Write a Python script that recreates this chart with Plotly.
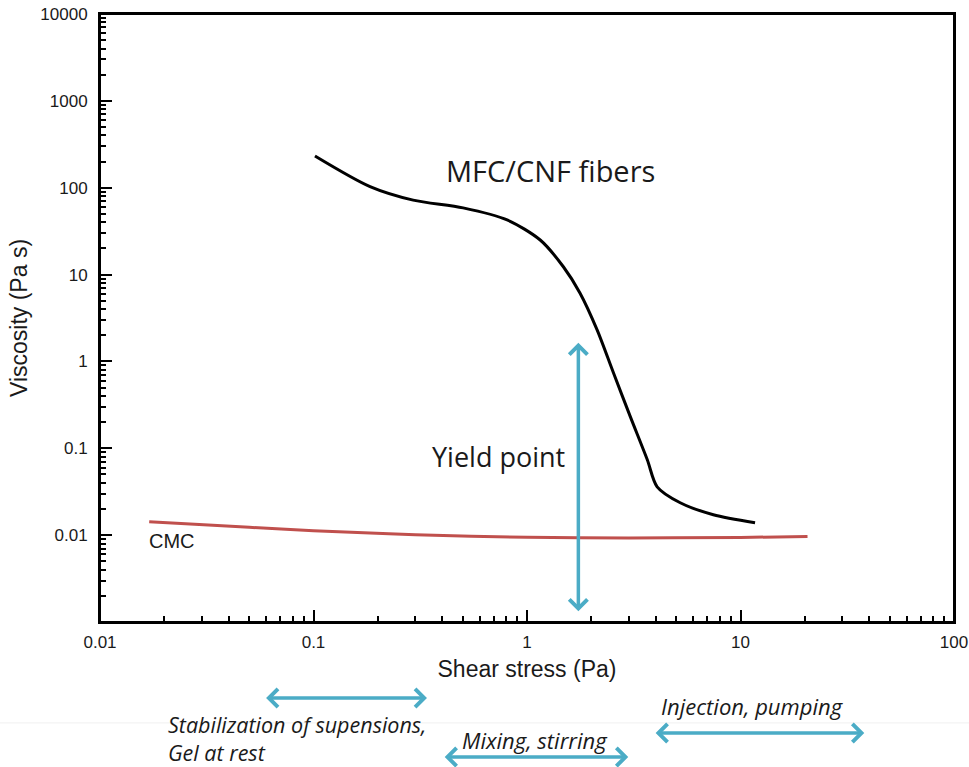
import numpy as np
import plotly.graph_objects as go

# ---- data ----
mfc_stress = [0.1016, 0.184, 0.293, 0.502, 0.807, 1.153, 1.48, 1.77, 2.13, 2.54, 3.05, 3.66, 4.07, 5.22, 7.46, 11.7]
mfc_visc = [232, 103, 72, 58.6, 42.6, 25, 12.3, 6.15, 2.31, 0.74, 0.23, 0.0738, 0.036, 0.0236, 0.0172, 0.0139]

cmc_stress = [0.017, 0.05, 0.1, 0.3, 1.0, 3.0, 10.0, 20.6]
cmc_visc = [0.0143, 0.0123, 0.01125, 0.0101, 0.00946, 0.0093, 0.0094, 0.00966]

yield_stress = 1.74
yield_arrow_visc = [0.00128, 1.64]

process_lo = [0.059, 0.405, 3.94]
process_hi = [0.34, 2.98, 38.0]

y_tickvals = [0.01, 0.1, 1, 10, 100, 1000, 10000]
y_ticktext = ["0.01", "0.1", "1", "10", "100", "1000", "10000"]
x_tickvals = [0.01, 0.1, 1, 10, 100]
x_ticktext = ["0.01", "0.1", "1", "10", "100"]

BLUE = "#4bacc6"
RED = "#c0504d"
TXT = "#1a1a1a"

fig = go.Figure()
fig.add_trace(go.Scatter(x=cmc_stress, y=cmc_visc, mode="lines",
                         line=dict(color=RED, width=3, shape="spline"),
                         showlegend=False, hoverinfo="skip"))
fig.add_trace(go.Scatter(x=mfc_stress, y=mfc_visc, mode="lines",
                         line=dict(color="black", width=3, shape="spline", smoothing=0.8),
                         showlegend=False, hoverinfo="skip"))

minor_x = [m * 10.0 ** e for e in range(-2, 2) for m in range(2, 10)]
minor_y = [m * 10.0 ** e for e in range(-3, 4) for m in range(2, 10)]

fig.update_xaxes(type="log", range=[-2, 2], showgrid=False, zeroline=False,
                 showline=True, linecolor="black", linewidth=2, mirror=True,
                 ticks="inside", ticklen=12, tickwidth=2, tickcolor="black",
                 tickvals=x_tickvals, ticktext=x_ticktext,
                 minor=dict(ticks="inside", ticklen=6, tickwidth=1.5, tickcolor="black",
                            tickvals=minor_x, showgrid=False),
                 tickfont=dict(family="Liberation Sans, Arial", size=17, color=TXT),
                 ticklabelstandoff=4, ticklabeloverflow="allow",
                 title=dict(text="Shear stress (Pa)", standoff=9,
                            font=dict(family="Liberation Sans, Arial", size=23, color=TXT)),
                 automargin=False)
fig.update_yaxes(type="log", range=[-3, 4], showgrid=False, zeroline=False,
                 showline=True, linecolor="black", linewidth=2, mirror=True,
                 ticks="inside", ticklen=12, tickwidth=2, tickcolor="black",
                 tickvals=y_tickvals, ticktext=y_ticktext,
                 minor=dict(ticks="inside", ticklen=6, tickwidth=1.5, tickcolor="black",
                            tickvals=minor_y, showgrid=False),
                 tickfont=dict(family="Liberation Sans, Arial", size=17, color=TXT),
                 ticklabelstandoff=7, ticklabeloverflow="allow",
                 title=dict(text="Viscosity (Pa s)", standoff=6,
                            font=dict(family="Liberation Sans, Arial", size=23, color=TXT)),
                 automargin=False)

ann = []
# yield point vertical double arrow
ann.append(dict(xref="x", yref="y", axref="x", ayref="y",
                x=np.log10(yield_stress), y=np.log10(yield_arrow_visc[1]),
                ax=np.log10(yield_stress), ay=np.log10(yield_arrow_visc[0]),
                showarrow=True, text="", arrowcolor=BLUE, arrowwidth=3.5,
                arrowhead=4, arrowsize=1.0, startarrowhead=4, startarrowsize=1.0,
                arrowside="end+start"))
# text labels in plot
ann.append(dict(xref="x", yref="y", x=0.109, y=2.2, text="MFC/CNF fibers", showarrow=False,
                font=dict(family="Open Sans", size=29, color=TXT)))
ann.append(dict(xref="x", yref="y", x=-0.135, y=-1.098, text="Yield point", showarrow=False,
                font=dict(family="Open Sans", size=27, color=TXT)))
ann.append(dict(xref="x", yref="y", x=-1.663, y=-2.07, text="CMC", showarrow=False,
                font=dict(family="Liberation Sans, Arial", size=20, color=TXT)))

# process window arrows below the axis
arrow_y = [-0.125, -0.222, -0.1826]
for lo, hi, yy in zip(process_lo, process_hi, arrow_y):
    ann.append(dict(xref="x", yref="paper", axref="x", ayref="pixel",
                    x=np.log10(hi), y=yy, ax=np.log10(lo), ay=0,
                    showarrow=True, text="", arrowcolor=BLUE, arrowwidth=3.5,
                    arrowhead=4, arrowsize=1.0, startarrowhead=4, startarrowsize=1.0,
                    arrowside="end+start"))

itfont = dict(family="Open Sans", size=22, color=TXT, style="italic")
ann.append(dict(xref="paper", yref="paper", x=0.0785, y=-0.1915, xanchor="left", yanchor="middle",
                align="left", borderpad=0,
                text="<i>Stabilization of supensions,<br>Gel at rest</i>", showarrow=False,
                font=dict(family="Open Sans", size=21.5, color=TXT, style="italic")))
ann.append(dict(xref="paper", yref="paper", x=0.509, y=-0.194, xanchor="center", yanchor="middle",
                text="<i>Mixing, stirring</i>", showarrow=False, font=itfont))
ann.append(dict(xref="paper", yref="paper", x=0.7646, y=-0.138, xanchor="center", yanchor="middle",
                text="<i>Injection, pumping</i>", showarrow=False, font=itfont))

fig.update_layout(width=969, height=767,
                  margin=dict(l=100, r=15, t=14, b=145),
                  paper_bgcolor="white", plot_bgcolor="white",
                  annotations=ann,
                  shapes=[dict(type="line", xref="paper", yref="paper",
                               x0=-0.12, x1=1.02, y0=-0.166, y1=-0.166,
                               line=dict(color="#f0f0f0", width=1), layer="below"),
                          dict(type="rect", xref="paper", yref="paper",
                               x0=0, x1=1, y0=0, y1=1,
                               line=dict(color="black", width=2), layer="above")])

fig.write_html("out.html", config={"displayModeBar": False},
               post_script="document.body.style.margin='0';document.body.style.overflow='hidden';")
